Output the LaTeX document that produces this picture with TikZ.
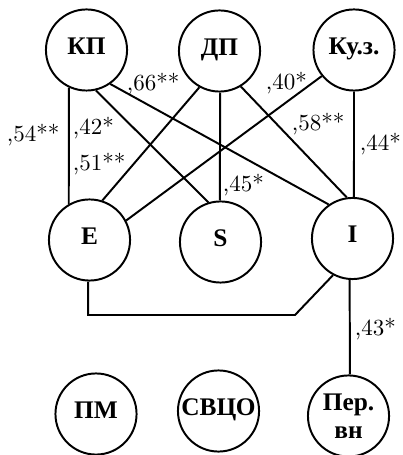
\documentclass[tikz,border=0pt]{standalone}
\usepackage{fontspec}
\newfontfamily\nodefont{Liberation Serif}
\begin{document}
\begin{tikzpicture}[x=0.434pt,y=-0.434pt,line width=0.85pt,
  circ/.style={circle,draw,minimum size=35.2pt,inner sep=0pt,
    font=\nodefont\bfseries\fontsize{11}{12.2}\selectfont},
  oneline/.style={text height=7.2pt,text depth=3.5pt},
  lab/.style={anchor=base west,inner sep=0pt,font=\fontsize{10}{12}\selectfont}]
\useasboundingbox (0,0) rectangle (402,455);
% nodes
\node[circ,oneline] (KP) at (86.5,50) {КП};
\node[circ,oneline] (DP) at (219.5,51) {ДП};
\node[circ,oneline] (KZ) at (354,50) {Ку.з.};
\node[circ,oneline] (E) at (89.5,240) {E};
\node[circ,oneline] (S) at (220.5,242) {S};
\node[circ,oneline] (I) at (352.5,238.5) {I};
\node[circ,oneline] (PM) at (96,414) {ПМ};
\node[circ,oneline] (SV) at (218.5,411) {СВЦО};
\node[circ,align=center] (PV) at (348.5,416) {Пер.\\вн};
\coordinate (c1) at (295,315);
% connectors
\draw (KP.245) -- (E.120);
\draw (KP.-77) -- (S.107);
\draw (KP.-55) -- (I.125);
\draw (DP.241) -- (E.72);
\draw (DP.-89) -- (S.91);
\draw (DP.-59) -- (I.98);
\draw (KZ.219) -- (E.28);
\draw (KZ.270) -- (I.88);
\draw (I.-94) -- (PV.88);
\draw (E.268) |- (c1) -- (I.242);
% labels
\node[lab] (l66) at (126,91) {,66**};
\node[lab] (l54) at (6,142) {,54**};
\node[lab] (l42) at (72,135) {,42*};
\node[lab] (l51) at (72,171) {,51**};
\node[lab] (l40) at (265,90) {,40*};
\node[lab] (l58) at (291,131) {,58**};
\node[lab] (l44) at (359,151) {,44*};
\node[lab] (l45) at (222,192) {,45*};
\node[lab] (l43) at (354,335) {,43*};
\end{tikzpicture}
\end{document}
